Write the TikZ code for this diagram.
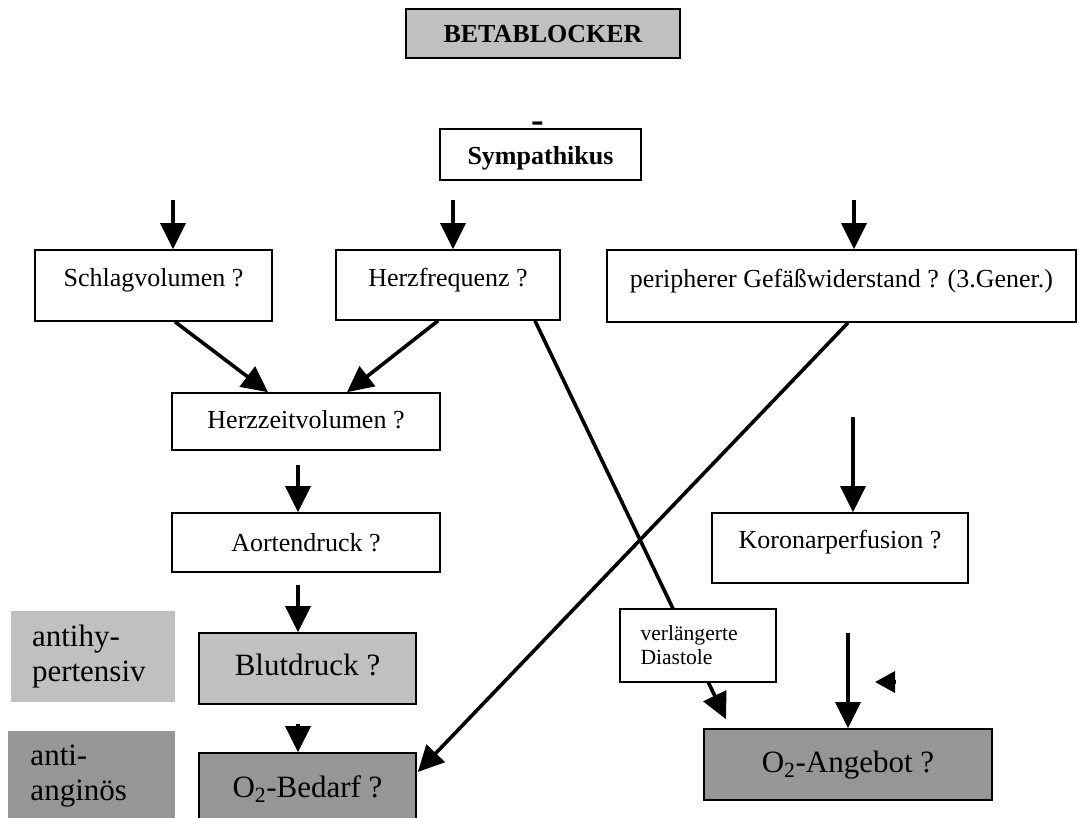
\documentclass[tikz,border=0pt]{standalone}
\usepackage{fontspec}
\setmainfont{Liberation Serif}
\usepackage{tikz}
\usetikzlibrary{arrows.meta}
\definecolor{lightfill}{HTML}{C0C0C0}
\definecolor{darkfill}{HTML}{969696}
\newcommand{\fsbox}{\fontsize{26}{30}\selectfont}
\newcommand{\fsbig}{\fontsize{31}{35}\selectfont}
\newcommand{\fssmall}{\fontsize{21.6}{24}\selectfont}

\begin{document}
\begin{tikzpicture}[x=1pt, y=-1pt,
    box/.style={draw, line width=1.6pt, inner sep=0pt},
    onebox/.style={box, font=\fsbox, text depth=4pt, text height=#1},
    tag/.style={inner sep=0pt, font=\fsbig, text width=122pt, align=left, minimum height=91pt},
    arr/.style={line width=3.6pt, -{Triangle[length=26pt,width=25pt]}}]
  \useasboundingbox (0,0) rectangle (1080,818);

  % Kopf
  \node[onebox=23pt, fill=lightfill, font=\fsbox\bfseries, minimum width=274pt, minimum height=49pt] (beta) at (543,33.5) {BETABLOCKER};
  \node[inner sep=0pt, font=\fontsize{38}{38}\selectfont\bfseries] (minus) at (537.5,127) {-};
  \node[onebox=25pt, font=\fsbox\bfseries, minimum width=201pt, minimum height=51pt] (symp) at (540.5,154.5) {Sympathikus};

  % erste Reihe
  \node[onebox=7pt, minimum width=237pt, minimum height=71pt] (schlag) at (153.5,285.5) {Schlagvolumen ?};
  \node[onebox=7pt, minimum width=224pt, minimum height=70pt] (herzf) at (448,285) {Herzfrequenz ?};
  \node[onebox=8pt, minimum width=469pt, minimum height=72pt] (periph) at (841.5,286) {peripherer Gefäßwiderstand ? (3.Gener.)};

  % linke Spalte
  \node[onebox=19pt, minimum width=268pt, minimum height=57pt] (hzv) at (306,421.5) {Herzzeitvolumen ?};
  \node[onebox=21pt, minimum width=268pt, minimum height=59pt] (aorta) at (306,542.5) {Aortendruck ?};
  \node[onebox=17pt, font=\fsbig, fill=lightfill, minimum width=217pt, minimum height=71pt] (blut) at (307.5,668.5) {Blutdruck ?};
  \node[onebox=21pt, font=\fsbig, fill=darkfill, minimum width=217pt, minimum height=71pt] (bedarf) at (307.5,788.5) {O\textsubscript{2}-Bedarf ?};

  \node[tag, fill=lightfill, minimum width=164pt] (antihyp) at (93,656.5) {antihy-\\pertensiv};
  \node[tag, fill=darkfill, minimum width=167pt] (angin) at (91.5,776.5) {anti-\\anginös};

  % rechte Spalte
  \node[onebox=4pt, minimum width=256pt, minimum height=70pt] (koronar) at (840,548) {Koronarperfusion ?};
  \node[onebox=19pt, font=\fsbig, fill=darkfill, minimum width=288pt, minimum height=71pt] (angebot) at (848,764.5) {O\textsubscript{2}-Angebot ?};

  % freie Pfeilanfaenge
  \coordinate (sv0) at (173,200);
  \coordinate (hf0) at (453,200);
  \coordinate (pw0) at (854,200);
  \coordinate (az0) at (298,465);
  \coordinate (bd0) at (298,585);
  \coordinate (ob0) at (298,724);
  \coordinate (kp0) at (853,417);
  \coordinate (oa0) at (848,633);
  \coordinate (la0) at (896,682);
  \coordinate (la1) at (875,682);

  \draw[arr] (sv0) -- (sv0 |- schlag.north);
  \draw[arr] (hf0) -- (hf0 |- herzf.north);
  \draw[arr] (pw0) -- (pw0 |- periph.north);

  \draw[arr] ([xshift=21.5pt]schlag.south) -- ([xshift=-38pt]hzv.north);
  \draw[arr] ([xshift=-10pt]herzf.south) -- ([xshift=41pt]hzv.north);
  \draw[arr] (az0) -- (az0 |- aorta.north);
  \draw[arr] (bd0) -- (bd0 |- blut.north);
  \draw[arr] (ob0) -- (ob0 |- bedarf.north);

  \draw[arr] ([xshift=6.5pt]periph.south) -- ([xshift=1pt,yshift=16.5pt]bedarf.east);
  \draw[arr] (kp0) -- (kp0 |- koronar.north);
  \draw[arr] (oa0) -- (oa0 |- angebot.north);
  \draw[arr, -{Triangle[length=20pt,width=21pt]}] (la0) -- (la1);

  % Diastole
  \draw[arr] ([xshift=87pt]herzf.south) -- ([xshift=-122pt,yshift=9pt]angebot.north);
  \node[box, fill=white, font=\fssmall, text width=115pt, align=left, minimum width=156pt, minimum height=73pt] (verl) at (698,645.5) {verlängerte\\Diastole};
\end{tikzpicture}
\end{document}
